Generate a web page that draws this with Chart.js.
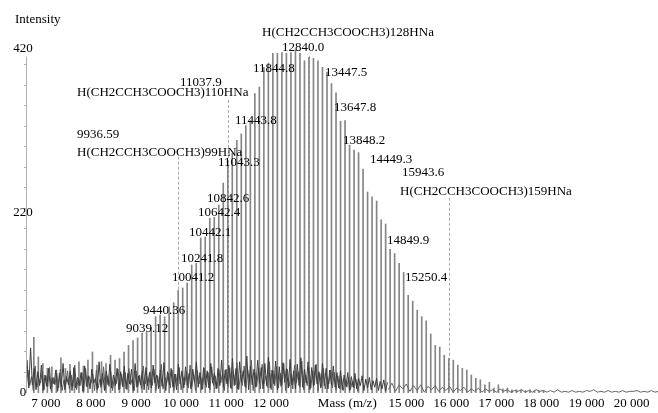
<!DOCTYPE html>
<html><head><meta charset="utf-8">
<script src="https://cdn.jsdelivr.net/npm/chart.js@4/dist/chart.umd.min.js"></script>
<style>html,body{margin:0;padding:0;background:#fff}#wrap{width:658px;height:413px}</style>
</head><body><div id="wrap"><canvas id="c" width="658" height="413"></canvas></div>
<script>
// Main oligomer series H(MMA)nHNa, n = 67..180
const peakMass = [6732,6832,6932,7032,7132,7232,7333,7433,7533,7633,7733,7833,7933,8033,8133,8234,8334,8434,8534,8634,8734,8834,
  8934,9035,9135,9235,9335,9435,9535,9635,9735,9836,9936,
  10036,10136,10236,10336,10436,10536,10637,10737,10837,10937,11037,
  11137,11237,11337,11437,11538,11638,11738,11838,11938,12038,
  12138,12238,12338,12439,12539,12639,12739,12839,12939,13039,
  13139,13239,13339,13440,13540,13640,13740,13840,13940,14040,
  14140,14240,14341,14441,14541,14641,14741,14841,14941,15042,
  15142,15242,15342,15442,15542,15642,15742,15842,15943,16043,
  16143,16243,16343,16443,16543,16643,16744,16844,16944,17044,
  17144,17244,17344,17444,17545,17645,17745,17845,17945,18045];
const peakHeight = [68,44,36,30,32,28,43,30,35,30,38,33,40,50,34,38,36,46,40,42,50,58,
  64,67,73,74,80,93,95,93,105,110,125,
  128,134,156,158,189,190,213,214,229,256,280,
  292,308,316,326,332,365,373,397,402,414,
  414,415,414,415,418,414,405,409,408,405,
  397,391,377,366,331,332,302,296,293,273,
  245,239,234,211,206,175,170,158,147,119,
  112,101,93,88,72,58,56,46,42,40,
  34,30,28,22,18,16,10,13,6,10,
  5,6,4,4,4,3,4,3,3,3];

// Baseline noise traces (sampled every 40 Da), plus the high-mass tail (every 80 Da)
const noiseStart = 6540, noiseStep = 40;
const noiseHeight = [12,40,6,55,10,30,4,26,9,34,3,22,8,30,5,18,11,28,2,24,7,36,4,20,10,27,3,31,6,19,9,25,2,33,8,21,5,29,12,18,4,38,7,24,3,27,10,35,6,22,9,30,4,26,
  8,33,5,24,11,29,3,36,7,21,10,27,4,31,9,25,6,34,12,22,5,28,8,37,3,26,10,30,7,23,4,35,11,27,6,32,9,24,5,29,13,38,7,25,4,31,10,27,6,36,12,24,5,30,9,40,7,28,
  11,34,6,42,9,30,5,38,13,27,8,45,4,33,10,29,7,40,12,31,5,36,9,44,6,28,11,39,4,32,8,37,13,30,6,41,10,27,5,35,9,43,7,29,12,38,4,31,8,34,11,26,6,36,9,30,5,28,10,33,7,25,
  6,27,4,22,8,25,3,20,7,24,5,18,9,21,3,17,6,19,4,15,7,18,3,14,5,16,2,13];
const noise2Start = 6560, noise2Step = 40;
const noise2Height = [5,28,9,20,3,33,7,17,12,26,4,21,8,31,2,19,10,24,6,29,3,16,11,27,5,22,8,34,4,18,9,25,2,30,7,20,12,23,3,28,6,17,10,32,4,21,8,26,3,19,11,29,5,23,
  7,25,4,30,10,18,3,27,8,22,5,33,11,20,4,26,9,29,3,21,7,35,5,19,12,24,6,28,3,23,9,31,4,20,10,26,6,34,8,22,3,27,11,19,5,30,7,25,4,32,9,21,6,28,12,24,3,29,
  8,31,5,26,10,37,4,22,9,33,6,28,12,40,3,25,8,30,5,35,11,21,7,38,4,27,9,32,6,24,10,36,3,29,8,23,5,34,12,26,7,39,4,22,9,31,6,27,10,35,3,24,8,30,5,20,11,28,6,25,4,21,
  5,20,3,16,7,19,4,14,6,17,2,12];
const tailStart = 14600, tailStep = 80;
const tailHeight = [4,12,2,10,5,11,2,9,3,10,1,8,4,9,2,7,3,8,1,6,3,7,1,5,2,6,1,5,2,4,1,5,2,4,1,3,2,4,1,3,1,4,2,3,1,3,1,4,1,2,1,3,1,2,1,3,2,4,1,2,1,3,1,2,1,3,1,2,2,3,1,2,1,3,1,2];

const xTickValues = [7000,8000,9000,10000,11000,12000,13690,15000,16000,17000,18000,19000,20000];
const xTickLabels = ['7 000','8 000','9 000','10 000','11 000','12 000','Mass (m/z)','15 000','16 000','17 000','18 000','19 000','20 000'];
const yTickValues = [0,220,420];
const yTickLabels = ['0','220','420'];

// Peak / annotation texts, anchored (left edge, vertical centre) in data units
const peakLabels = [
  {text:'Intensity', mass:6314, y:455},
  {text:'H(CH2CCH3COOCH3)128HNa', mass:11797, y:439.5},
  {text:'12840.0', mass:12241, y:421},
  {text:'11844.8', mass:11597, y:396},
  {text:'13447.5', mass:13195, y:391},
  {text:'11037.9', mass:9977, y:378.6},
  {text:'H(CH2CCH3COOCH3)110HNa', mass:7690, y:366},
  {text:'11443.8', mass:11197, y:332},
  {text:'13647.8', mass:13395, y:348},
  {text:'9936.59', mass:7690, y:315},
  {text:'13848.2', mass:13595, y:308},
  {text:'H(CH2CCH3COOCH3)99HNa', mass:7690, y:293},
  {text:'14449.3', mass:14194, y:285},
  {text:'11043.3', mass:10820, y:281},
  {text:'15943.6', mass:14904, y:269},
  {text:'H(CH2CCH3COOCH3)159HNa', mass:14860, y:245},
  {text:'10842.6', mass:10576, y:237},
  {text:'10642.4', mass:10376, y:220},
  {text:'10442.1', mass:10176, y:196},
  {text:'14849.9', mass:14571, y:186},
  {text:'10241.8', mass:9999, y:164},
  {text:'15250.4', mass:14971, y:141},
  {text:'10041.2', mass:9799, y:141},
  {text:'9440.36', mass:9155, y:101},
  {text:'9039.12', mass:8778, y:79}
];
const annotLines = [
  {mass:9936, top:288},
  {mass:11038, top:357},
  {mass:12840, top:411},
  {mass:15943, top:238}
];

const FONT = '13px "Liberation Serif", "Times New Roman", serif';

const annotPlugin = {
  id: 'annot',
  beforeDatasetsDraw(chart) {
    const {ctx, scales:{x, y}} = chart;
    ctx.save();
    ctx.strokeStyle = '#b0b0b0';
    ctx.lineWidth = 1;
    const ax = Math.round(chart.chartArea.left) - 0.5;
    ctx.beginPath();
    ctx.moveTo(ax, y.getPixelForValue(410));
    ctx.lineTo(ax, y.getPixelForValue(0));
    ctx.stroke();
    ctx.strokeStyle = '#a8a8a8';
    ctx.setLineDash([3, 2]);
    annotLines.forEach(a => {
      const px = Math.round(x.getPixelForValue(a.mass)) + 0.5;
      ctx.beginPath();
      ctx.moveTo(px, y.getPixelForValue(a.top));
      ctx.lineTo(px, y.getPixelForValue(0));
      ctx.stroke();
    });
    ctx.restore();
  },
  afterDraw(chart) {
    const {ctx, scales:{x, y}} = chart;
    ctx.save();
    ctx.font = FONT;
    ctx.fillStyle = '#000';
    ctx.textBaseline = 'middle';
    ctx.textAlign = 'left';
    peakLabels.forEach(l => {
      ctx.fillText(l.text, x.getPixelForValue(l.mass), y.getPixelForValue(l.y));
    });
    ctx.textAlign = 'center';
    yTickValues.forEach((v, i) => {
      ctx.fillText(yTickLabels[i], chart.chartArea.left - 4, y.getPixelForValue(v));
    });
    ctx.restore();
  }
};

function trace(heights, start, step, color, order) {
  return {
    type: 'line',
    data: heights.map((h, i) => ({x: start + i * step, y: h})),
    borderColor: color,
    borderWidth: 1,
    pointRadius: 0,
    tension: 0,
    order: order
  };
}

new Chart(document.getElementById('c'), {
  type: 'line',
  data: {
    datasets: [
      trace(noiseHeight, noiseStart, noiseStep, '#3c3c3c', 0),
      trace(noise2Height, noise2Start, noise2Step, '#5a5a5a', 0),
      trace(tailHeight, tailStart, tailStep, '#666', 0),
      {
        type: 'bar',
        label: 'peaks',
        data: peakMass.map((m, i) => ({x: m, y: peakHeight[i]})),
        backgroundColor: '#858585',
        barThickness: 1,
        order: 1
      }
    ]
  },
  options: {
    responsive: false,
    animation: false,
    devicePixelRatio: 1,
    layout: {padding: {top: 32, left: 0, right: 0, bottom: 0}},
    plugins: {legend: {display: false}, tooltip: {enabled: false}},
    scales: {
      x: {
        type: 'linear',
        min: 6580,
        max: 20587,
        offset: false,
        grid: {display: false, drawTicks: false},
        border: {display: false},
        afterBuildTicks: s => { s.ticks = xTickValues.map(v => ({value: v})); },
        afterFit: s => { s.height = 20; },
        ticks: {
          autoSkip: false,
          maxRotation: 0,
          padding: 3,
          color: '#000',
          font: {family: '"Liberation Serif", serif', size: 13},
          callback: (v) => { const i = xTickValues.indexOf(v); return i >= 0 ? xTickLabels[i] : ''; }
        }
      },
      y: {
        type: 'linear',
        min: 0,
        max: 440,
        grid: {display: true, drawOnChartArea: false, drawTicks: true, tickLength: 3, color: '#b0b0b0'},
        border: {display: false},
        afterBuildTicks: s => { const t = []; for (let v = 25; v <= 400; v += 25) t.push({value: v}); s.ticks = t; },
        afterFit: s => { s.width = 27; },
        ticks: {autoSkip: false, padding: 0, callback: () => ''}
      }
    }
  },
  plugins: [annotPlugin]
});
</script>
</body></html>
